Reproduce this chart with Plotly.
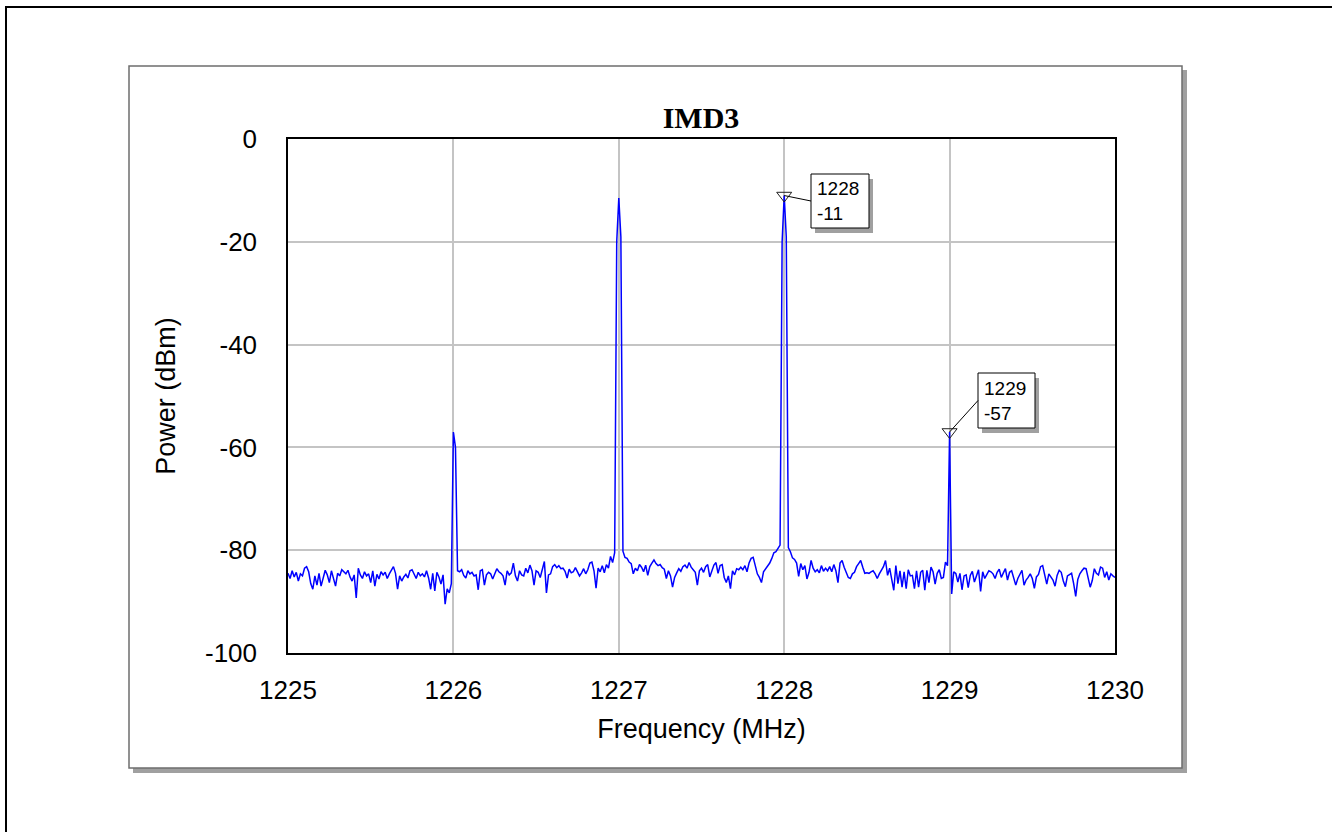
import numpy as np
import plotly.graph_objects as go

# ---------------- data ----------------
freq_start, freq_stop = 1225.0, 1230.0
power_dbm = [
    -84.5, -85.5, -84.0, -85.2, -84.3, -86.0, -84.6, -85.0, -83.5, -83.2,
    -84.2, -86.5, -87.6, -85.0, -86.8, -84.5, -87.0, -85.5, -83.9, -84.8,
    -86.3, -84.0, -85.6, -87.0, -84.5, -85.0, -83.8, -84.3, -84.6, -83.9,
    -85.2, -86.0, -84.8, -89.3, -83.5, -84.8, -85.5, -84.2, -85.0, -84.6,
    -86.3, -84.0, -87.0, -84.7, -85.6, -84.2, -84.8, -84.3, -85.5, -84.6,
    -83.8, -83.2, -84.5, -87.6, -85.0, -86.0, -85.2, -84.7, -85.4, -84.0,
    -83.8, -84.6, -85.5, -84.3, -85.0, -84.6, -85.2, -84.0, -85.4, -87.6,
    -84.5, -87.9, -84.3, -85.2, -86.6, -84.8, -90.5, -87.5, -88.3, -86.5,
    -57.0, -60.0, -84.0, -84.2, -83.8, -84.9, -85.4, -84.0, -84.6, -84.3,
    -85.0, -84.8, -87.7, -84.0, -83.8, -86.8, -84.8, -84.3, -84.6, -85.6,
    -84.5, -83.6, -84.2, -84.5, -85.0, -86.8, -84.0, -84.8, -84.4, -82.5,
    -85.0, -86.0, -84.0, -84.8, -85.0, -83.5, -84.4, -82.9, -84.0, -86.8,
    -84.0, -84.3, -85.3, -84.0, -82.2, -88.3, -84.8, -84.6, -83.2, -82.8,
    -83.4, -83.0, -83.6, -83.5, -84.1, -85.4, -83.7, -84.4, -84.2, -83.4,
    -84.3, -85.0, -84.4, -83.6, -84.6, -83.8, -82.5, -82.3, -84.0, -87.4,
    -83.5, -84.2, -83.0, -84.4, -82.8, -83.5, -81.2, -82.4, -80.5, -20.0,
    -11.5, -19.0, -80.2, -81.4, -81.6, -82.3, -82.6, -84.6, -83.5, -84.0,
    -82.8, -83.3, -84.2, -82.9, -84.9, -83.2, -82.5, -81.9, -82.6, -83.0,
    -82.8, -83.4, -83.7, -85.5, -84.0, -85.0, -87.2, -85.3, -84.4, -83.6,
    -84.1, -83.2, -82.9, -83.5, -82.4, -83.3, -83.8, -84.3, -86.8, -84.0,
    -83.5, -84.3, -83.2, -82.8, -85.2, -83.8, -82.9, -82.4, -84.5, -83.0,
    -82.8, -85.3, -86.3, -85.0, -87.5, -84.0, -84.8, -83.6, -83.8, -83.3,
    -83.8, -83.0, -84.2, -82.5, -81.6, -81.4, -83.2, -84.6, -85.3, -86.3,
    -84.2, -83.7, -83.0, -82.5, -81.6, -80.5, -80.3, -79.5, -79.0, -20.0,
    -11.0, -19.0, -79.5, -80.3, -81.5, -81.8, -82.5, -85.1, -82.6, -83.8,
    -83.0, -85.6, -84.3, -82.0, -83.5, -84.2, -83.8, -84.4, -83.0, -84.1,
    -83.5, -84.0, -83.2, -84.2, -82.8, -84.0, -86.3, -82.5, -82.0, -83.3,
    -84.4, -85.3, -85.5, -84.6, -84.3, -83.2, -82.6, -82.0, -83.3, -84.5,
    -84.4, -84.5, -84.2, -84.0, -84.6, -85.5, -84.6, -84.0, -83.2, -82.0,
    -84.9, -83.5, -86.0, -87.8, -83.0, -86.5, -84.0, -87.2, -84.2, -87.5,
    -83.8, -85.0, -84.9, -87.5, -84.0, -87.2, -84.3, -83.9, -87.8, -83.9,
    -86.3, -83.3, -84.2, -86.6, -84.5, -83.8, -85.5, -85.3, -82.3, -83.0,
    -57.0, -88.5, -84.2, -84.5, -86.2, -84.5, -87.7, -85.0, -84.8, -87.3,
    -84.9, -84.1, -86.2, -85.0, -83.8, -88.0, -84.2, -85.5, -84.8, -84.0,
    -84.2, -84.6, -85.5, -84.3, -83.7, -85.3, -84.4, -83.6, -85.8, -84.3,
    -84.0, -85.2, -86.8, -85.5, -84.6, -83.9, -86.8, -85.8, -85.3, -84.6,
    -85.5, -87.4, -85.2, -84.7, -83.2, -83.0, -84.8, -86.6, -84.6, -85.2,
    -85.8, -87.0, -84.9, -83.9, -84.3, -86.0, -87.1, -85.0, -84.7, -84.5,
    -86.5, -89.0, -85.7, -84.6, -84.0, -83.5, -83.6, -85.5, -87.2, -85.9,
    -83.6, -84.5, -84.8, -83.3, -83.5, -85.3, -84.2, -85.8, -84.6, -85.0,
    -85.3,
]
freq_mhz = np.linspace(freq_start, freq_stop, len(power_dbm))
marker_freqs = [1228.0, 1229.0]
x_ticks = [1225, 1226, 1227, 1228, 1229, 1230]
y_ticks = [0, -20, -40, -60, -80, -100]
chart_title = "IMD3"
x_title = "Frequency (MHz)"
y_title = "Power (dBm)"

# ---------------- geometry (pixels) ----------------
W, H = 1332, 832
PL, PR, PT, PB = 288, 1115, 139, 653
X0, X1, Y0, Y1 = 1225.0, 1230.0, -100.0, 0.0


def pxp(x):  # pixel -> paper x
    return (x - PL) / (PR - PL)


def pyp(y):  # pixel -> paper y
    return (PB - y) / (PB - PT)


def pxd(x):  # pixel -> data x
    return X0 + (x - PL) / (PR - PL) * (X1 - X0)


def pyd(y):  # pixel -> data y
    return Y1 - (y - PT) / (PB - PT) * (Y1 - Y0)


pw = np.array(power_dbm)
mk_idx = [int(np.argmin(np.abs(freq_mhz - f))) for f in marker_freqs]
mk_x = [float(freq_mhz[i]) for i in mk_idx]
mk_y = [float(pw[i]) for i in mk_idx]

fig = go.Figure()
fig.add_trace(go.Scatter(
    x=freq_mhz, y=power_dbm, mode="lines",
    line=dict(color="#0000ff", width=1.5), showlegend=False, hoverinfo="skip"))
fig.add_trace(go.Scatter(
    x=mk_x, y=mk_y, mode="markers",
    marker=dict(symbol="triangle-down-open", size=13, color="#202020",
                line=dict(width=1, color="#202020")),
    showlegend=False, hoverinfo="skip"))

shapes = [
    # outer frame (right/bottom edges run off the page)
    dict(type="rect", xref="paper", yref="paper", x0=pxp(6), x1=pxp(1345),
         y0=pyp(845), y1=pyp(7), line=dict(color="black", width=2),
         fillcolor="rgba(0,0,0,0)", layer="below"),
    # panel shadow
    dict(type="rect", xref="paper", yref="paper", x0=pxp(133), x1=pxp(1187),
         y0=pyp(773), y1=pyp(70), line=dict(width=0), fillcolor="#a0a0a0",
         layer="below"),
    # panel
    dict(type="rect", xref="paper", yref="paper", x0=pxp(129), x1=pxp(1182),
         y0=pyp(768), y1=pyp(66), line=dict(color="#6e6e6e", width=1.5),
         fillcolor="white", layer="below"),
]

# marker label boxes (pixel boxes: left, top, right, bottom)
boxes = [(811, 174, 869, 228), (978, 373, 1035, 428)]
annotations = []
for (bl, bt, br, bb), fx, fy in zip(boxes, mk_x, mk_y):
    shapes.append(dict(type="rect", xref="paper", yref="paper",
                       x0=pxp(bl + 4), x1=pxp(br + 4), y0=pyp(bb + 5), y1=pyp(bt + 5),
                       line=dict(width=0), fillcolor="#a0a0a0", layer="above"))
    shapes.append(dict(type="rect", xref="paper", yref="paper",
                       x0=pxp(bl), x1=pxp(br), y0=pyp(bb), y1=pyp(bt),
                       line=dict(color="black", width=1), fillcolor="white",
                       layer="above"))
    shapes.append(dict(type="line", xref="x", yref="y",
                       x0=fx, y0=fy, x1=pxd(bl), y1=pyd((bt + bb) / 2),
                       line=dict(color="black", width=1), layer="above"))
    annotations.append(dict(
        xref="paper", yref="paper", x=pxp(bl + 4), y=pyp((bt + bb) / 2),
        xanchor="left", yanchor="middle", align="left", showarrow=False,
        text=f"{int(round(fx))}<br>{int(round(fy))}",
        font=dict(family="Liberation Sans, Arial", size=19, color="black")))

fig.update_layout(
    width=W, height=H,
    margin=dict(l=PL, r=W - PR, t=PT, b=H - PB, pad=0),
    paper_bgcolor="white", plot_bgcolor="white",
    title=dict(text=f"<b>{chart_title}</b>", x=pxp(701), xref="paper",
               y=1 - 117 / H, yref="container", xanchor="center", yanchor="middle",
               font=dict(family="Liberation Serif, Times New Roman", size=30,
                         color="black")),
    font=dict(family="Liberation Sans, Arial", color="black"),
    shapes=shapes, annotations=annotations,
)
fig.update_xaxes(
    range=[X0, X1], tickvals=x_ticks, ticktext=[str(t) for t in x_ticks],
    showgrid=True, gridcolor="#c4c4c4", gridwidth=1.5, zeroline=False,
    showline=True, mirror=True, linecolor="black", linewidth=1.5,
    ticks="", ticklabelstandoff=13, tickfont=dict(size=26),
    title=dict(text=x_title, font=dict(size=27), standoff=15))
fig.update_yaxes(
    range=[Y0, Y1], tickvals=y_ticks, ticktext=[str(t) for t in y_ticks],
    showgrid=True, gridcolor="#c4c4c4", gridwidth=1.5, zeroline=False,
    showline=True, mirror=True, linecolor="black", linewidth=1.5,
    ticks="", ticklabelstandoff=24, tickfont=dict(size=26),
    title=dict(text=y_title, font=dict(size=27), standoff=22))

fig.write_html("out.html")
